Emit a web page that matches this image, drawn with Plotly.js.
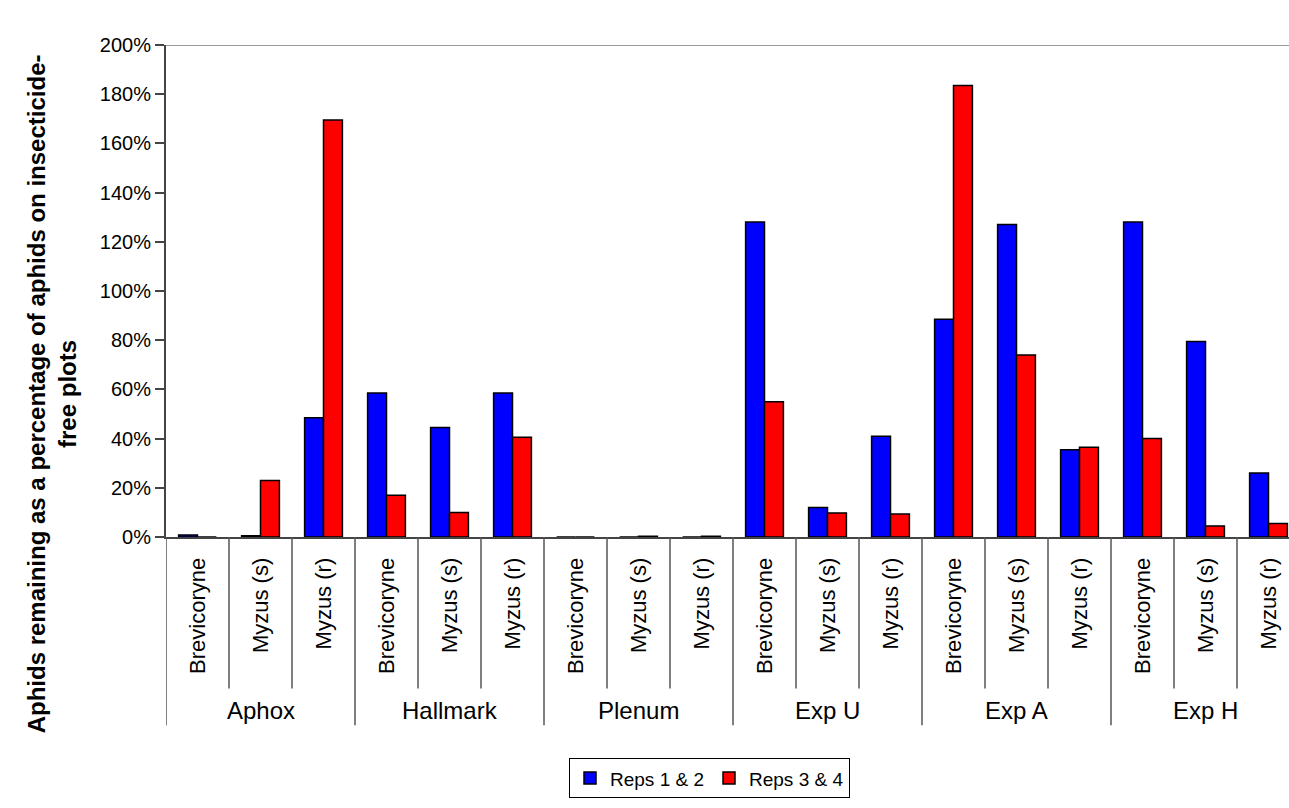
<!DOCTYPE html>
<html>
<head>
<meta charset="utf-8">
<script src="https://cdn.plot.ly/plotly-3.0.1.min.js"></script>
<style>
html, body { margin: 0; padding: 0; overflow: hidden; background: #fff; }
#chart { width: 1310px; height: 808px; }
</style>
</head>
<body>
<div id="chart"></div>
<script>
const groups = ['Aphox', 'Hallmark', 'Plenum', 'Exp U', 'Exp A', 'Exp H'];
const species = ['Brevicoryne', 'Myzus (s)', 'Myzus (r)'];
const seriesNames = ['Reps 1 & 2', 'Reps 3 & 4'];
const reps12 = [0.8, 0.5, 48.5,  58.5, 44.5, 58.5,  0, 0, 0,      128, 12, 41,    88.5, 127, 35.5,  128, 79.5, 26];
const reps34 = [0, 23, 169.5,    17, 10, 40.5,      0, 0.3, 0.3,  55, 9.8, 9.3,   183.5, 74, 36.5,  40, 4.5, 5.5];
const yTicks = [0, 20, 40, 60, 80, 100, 120, 140, 160, 180, 200];
const yTickText = yTicks.map(v => v + '%');
const yTitle = 'Aphids remaining as a percentage of aphids on insecticide-<br>free plots';

const font = 'Arial, "Liberation Sans", sans-serif';
const idx = [];
const labels = [];
groups.forEach((g, gi) => species.forEach((s, si) => { idx.push(gi * species.length + si); labels.push(s); }));

const traces = [
  { type: 'bar', name: seriesNames[0], x: idx, y: reps12,
    marker: { color: '#0000FF', line: { color: '#000000', width: 1.5 } } },
  { type: 'bar', name: seriesNames[1], x: idx, y: reps34,
    marker: { color: '#FF0000', line: { color: '#000000', width: 1.5 } } }
];

const plotH = 507;
const py = px => -(px - 552) / plotH;
const shapes = [];
for (let i = 0; i <= idx.length; i++) {
  const isGroup = i % species.length === 0;
  shapes.push({ type: 'line', xref: 'x', yref: 'paper', x0: i - 0.5, x1: i - 0.5,
    y0: 0, y1: isGroup ? py(746) : py(708), line: { color: '#555555', width: 1.5 } });
}
shapes.push({ type: 'line', xref: 'paper', yref: 'y', x0: 0, x1: 1, y0: yTicks[yTicks.length - 1], y1: yTicks[yTicks.length - 1],
  line: { color: '#999999', width: 2 } });

const annotations = groups.map((g, gi) => ({
  text: g, xref: 'x', yref: 'paper', x: gi * species.length + 1, y: py(731),
  xanchor: 'center', yanchor: 'middle', showarrow: false, font: { family: font, size: 24, color: '#000' }
}));
annotations.push({
  text: '<b>' + yTitle + '</b>', xref: 'paper', yref: 'paper', x: (52 - 166) / 1134, y: (552 - 405) / plotH,
  xanchor: 'center', yanchor: 'middle', textangle: -90, showarrow: false,
  font: { family: font, size: 24, color: '#000' }
});

const layout = {
  width: 1310, height: 808,
  margin: { l: 166, r: 10, t: 45, b: 256 },
  paper_bgcolor: '#ffffff', plot_bgcolor: '#ffffff',
  font: { family: font, size: 20, color: '#000' },
  barmode: 'group', bargap: 0.4, bargroupgap: 0,
  showlegend: true,
  legend: { orientation: 'h', x: (569 - 166) / 1134, xanchor: 'left', y: py(780), yanchor: 'top',
    bordercolor: '#000', borderwidth: 1, bgcolor: '#fff', itemwidth: 30, tracegroupgap: 0,
    font: { family: font, size: 19, color: '#000' } },
  xaxis: { range: [-0.5, idx.length - 0.5], tickvals: idx, ticktext: labels, tickangle: -90,
    ticks: '', showline: true, linecolor: '#444', linewidth: 2, showgrid: false, zeroline: false,
    ticklabelstandoff: 10, tickfont: { family: font, size: 22, color: '#000' }, fixedrange: true },
  yaxis: { range: [0, 200], tickmode: 'array', tickvals: yTicks, ticktext: yTickText, ticks: 'outside', ticklen: 9,
    tickwidth: 2, tickcolor: '#444', showline: true, linecolor: '#444', linewidth: 2,
    showgrid: false, zeroline: false, tickfont: { family: font, size: 20, color: '#000' }, fixedrange: true },
  shapes: shapes,
  annotations: annotations
};

Plotly.newPlot('chart', traces, layout, { displayModeBar: false, staticPlot: true });
</script>
</body>
</html>
